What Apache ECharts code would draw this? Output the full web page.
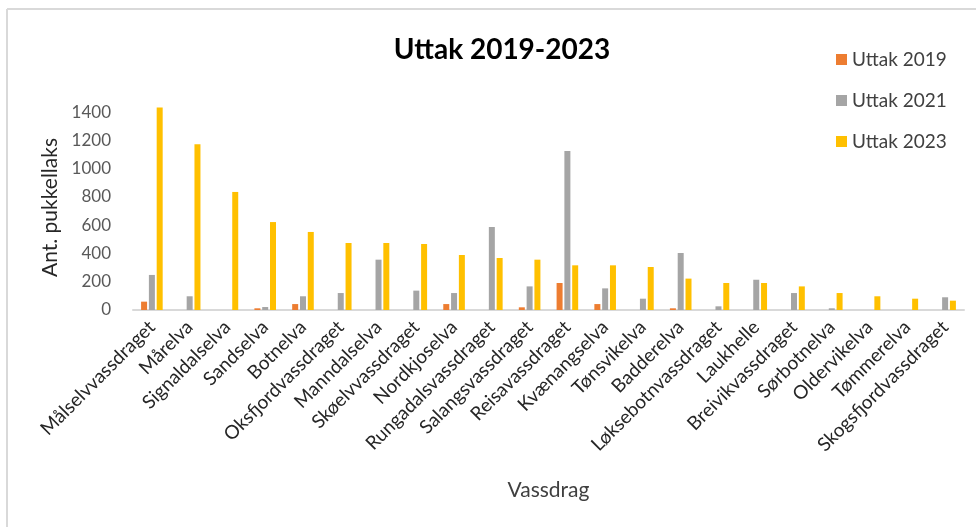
<!DOCTYPE html>
<html>
<head>
<meta charset="utf-8">
<script src="https://cdn.jsdelivr.net/npm/echarts@6/dist/echarts.min.js"></script>
<style>
  html, body { margin: 0; padding: 0; background: #fff; }
  #chart { width: 976px; height: 527px; }
</style>
</head>
<body>
<div id="chart"></div>
<script>
// Vassdrag (sortert etter uttak 2023)
const vassdrag = [
    'Målselvvassdraget', 'Mårelva', 'Signaldalselva', 'Sandselva', 'Botnelva',
    'Oksfjordvassdraget', 'Manndalselva', 'Skøelvvassdraget', 'Nordkjoselva',
    'Rungadalsvassdraget', 'Salangsvassdraget', 'Reisavassdraget', 'Kvænangselva',
    'Tønsvikelva', 'Badderelva', 'Løksebotnvassdraget', 'Laukhelle',
    'Breivikvassdraget', 'Sørbotnelva', 'Oldervikelva', 'Tømmerelva',
    'Skogsfjordvassdraget'
];
const uttak2019 = [59, 0, 0, 12, 42, 0, 0, 0, 42, 0, 19, 191, 42, 0, 12, 0, 0, 0, 0, 0, 0, 0];
const uttak2021 = [248, 97, 0, 21, 97, 120, 356, 137, 120, 587, 167, 1124, 153, 80, 403, 26, 214, 120, 12, 0, 0, 90];
const uttak2023 = [1433, 1172, 835, 622, 552, 474, 474, 467, 389, 368, 356, 316, 316, 304, 222, 191, 191, 167, 120, 97, 80, 66];

const chart = echarts.init(document.getElementById('chart'));

const font = 'Lato, "Open Sans", sans-serif';

const option = {
    animation: false,
    textStyle: { fontFamily: font },
    title: {
        text: 'Uttak 2019-2023',
        left: 497,
        textAlign: 'center',
        top: 31,
        textStyle: { fontSize: 28, fontWeight: 'bold', color: '#000', fontFamily: font }
    },
    legend: {
        orient: 'vertical',
        left: 831,
        top: 45,
        itemWidth: 11,
        itemHeight: 11,
        itemGap: 22,
        icon: 'rect',
        textStyle: { fontSize: 19, color: '#404040', fontFamily: font },
        data: ['Uttak 2019', 'Uttak 2021', 'Uttak 2023']
    },
    grid: { left: 133, right: 12, top: 105, bottom: 217 },
    xAxis: {
        type: 'category',
        data: vassdrag,
        name: 'Vassdrag',
        nameLocation: 'middle',
        nameGap: 170,
        nameTextStyle: { fontSize: 21, color: '#404040', fontFamily: font },
        axisLine: { lineStyle: { color: '#d9d9d9', width: 2 } },
        axisTick: { show: false },
        axisLabel: {
            interval: 0,
            rotate: 45,
            margin: 14,
            fontSize: 19,
            color: '#262626',
            fontFamily: font
        }
    },
    yAxis: {
        type: 'value',
        min: 0,
        max: 1450,
        interval: 200,
        name: 'Ant. pukkellaks',
        nameLocation: 'middle',
        nameGap: 66,
        nameRotate: 90,
        nameTextStyle: { fontSize: 21, color: '#262626', fontFamily: font },
        axisLine: { show: false },
        axisTick: { show: false },
        splitLine: { show: false },
        axisLabel: {
            margin: 22,
            fontSize: 17,
            color: '#595959',
            fontFamily: font,
            showMaxLabel: false,
            formatter: v => String(v)
        }
    },
    series: [
        { name: 'Uttak 2019', type: 'bar', data: uttak2019, barWidth: 6, barGap: '30%', itemStyle: { color: '#ED7D31' } },
        { name: 'Uttak 2021', type: 'bar', data: uttak2021, barWidth: 6, barGap: '30%', itemStyle: { color: '#A5A5A5' } },
        { name: 'Uttak 2023', type: 'bar', data: uttak2023, barWidth: 6, barGap: '30%', itemStyle: { color: '#FFC000' } }
    ],
    graphic: [
        { type: 'line', shape: { x1: 7, y1: 9, x2: 976, y2: 9 }, style: { stroke: '#d9d9d9', lineWidth: 2 } },
        { type: 'line', shape: { x1: 7, y1: 9, x2: 7, y2: 527 }, style: { stroke: '#d9d9d9', lineWidth: 2 } }
    ]
};

chart.setOption(option);
</script>
</body>
</html>
